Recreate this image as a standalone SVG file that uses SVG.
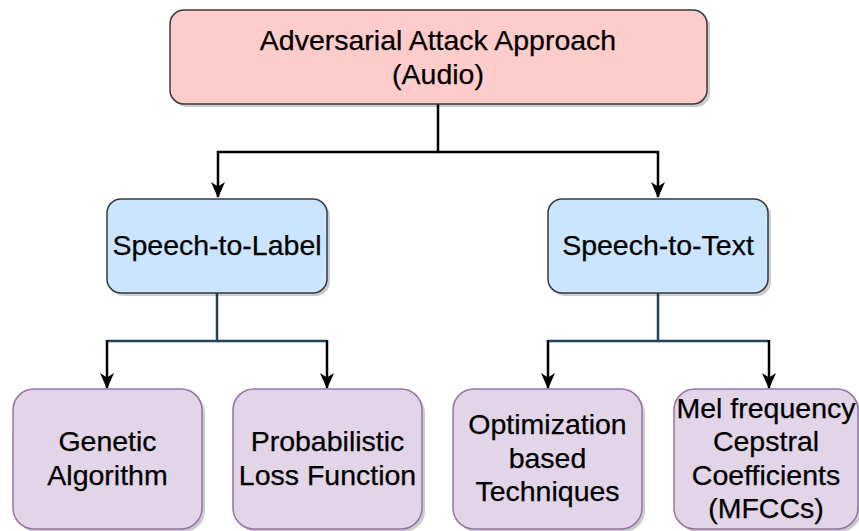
<svg xmlns="http://www.w3.org/2000/svg" xmlns:xlink="http://www.w3.org/1999/xlink" width="859" height="531" viewBox="0 0 859 531">
<style>
text{font-family:"Liberation Sans",Arial,sans-serif;font-size:28.5px;fill:#000;text-anchor:middle;stroke:#000;stroke-width:0.25}
.shadow{fill:#000;opacity:0.2}
.root{fill:#ffcccc;stroke:#36393d;stroke-width:1.5}
.mid{fill:#cce5ff;stroke:#36393d;stroke-width:1.5}
.leaf{fill:#e1d5e7;stroke:#9673a6;stroke-width:1.5}
.blk{fill:none;stroke:#000;stroke-width:2.5}
.dk{fill:none;stroke:#23445d;stroke-width:2.5}
</style>
<defs>
<marker id="arr" viewBox="0 0 16 16" refX="15" refY="8" markerWidth="16" markerHeight="16" markerUnits="userSpaceOnUse" orient="auto">
<path d="M0,1 L16,8 L0,15 L4.5,8 Z" fill="#000"/>
</marker>
</defs>
<rect width="859" height="531" fill="#fff"/>
<g id="connectors">
<path class="blk" d="M438,104 V152 H218 V197" marker-end="url(#arr)"/>
<path class="blk" d="M438,152 H658 V197" marker-end="url(#arr)"/>
<path class="dk" d="M217,293 V341 H107"/>
<path class="dk" d="M217,341 H327"/>
<path class="blk" d="M107,340 V388" marker-end="url(#arr)"/>
<path class="blk" d="M327,340 V388" marker-end="url(#arr)"/>
<path class="dk" d="M658,293 V341 H548"/>
<path class="dk" d="M658,341 H769"/>
<path class="blk" d="M548,340 V388" marker-end="url(#arr)"/>
<path class="blk" d="M769,340 V388" marker-end="url(#arr)"/>
</g>
<g id="root">
<rect class="shadow" x="173" y="13" width="537" height="94" rx="14"/>
<rect class="root" x="170" y="10" width="537" height="94" rx="14"/>
<text x="438" y="50">Adversarial Attack Approach</text>
<text x="438" y="84">(Audio)</text>
</g>
<g id="speech-to-label">
<rect class="shadow" x="110" y="202" width="220" height="94" rx="14"/>
<rect class="mid" x="107" y="199" width="220" height="94" rx="14"/>
<text x="217" y="255">Speech-to-Label</text>
</g>
<g id="speech-to-text">
<rect class="shadow" x="551" y="202" width="220" height="94" rx="14"/>
<rect class="mid" x="548" y="199" width="220" height="94" rx="14"/>
<text x="658" y="255">Speech-to-Text</text>
</g>
<g id="genetic">
<rect class="shadow" x="16" y="392" width="189" height="140" rx="21"/>
<rect class="leaf" x="13" y="389" width="189" height="140" rx="21"/>
<text x="107.5" y="451">Genetic</text>
<text x="107.5" y="485">Algorithm</text>
</g>
<g id="probabilistic">
<rect class="shadow" x="236" y="392" width="189" height="140" rx="21"/>
<rect class="leaf" x="233" y="389" width="189" height="140" rx="21"/>
<text x="327.5" y="451">Probabilistic</text>
<text x="327.5" y="485">Loss Function</text>
</g>
<g id="optimization">
<rect class="shadow" x="456" y="392" width="189" height="140" rx="21"/>
<rect class="leaf" x="453" y="389" width="189" height="140" rx="21"/>
<text x="547.5" y="434">Optimization</text>
<text x="547.5" y="468">based</text>
<text x="547.5" y="501">Techniques</text>
</g>
<g id="mfcc">
<rect class="shadow" x="677" y="392" width="184" height="140" rx="21"/>
<rect class="leaf" x="674" y="389" width="184" height="140" rx="21"/>
<text x="766" y="418">Mel frequency</text>
<text x="766" y="451">Cepstral</text>
<text x="766" y="485">Coefficients</text>
<text x="766" y="518">(MFCCs)</text>
</g>
</svg>
